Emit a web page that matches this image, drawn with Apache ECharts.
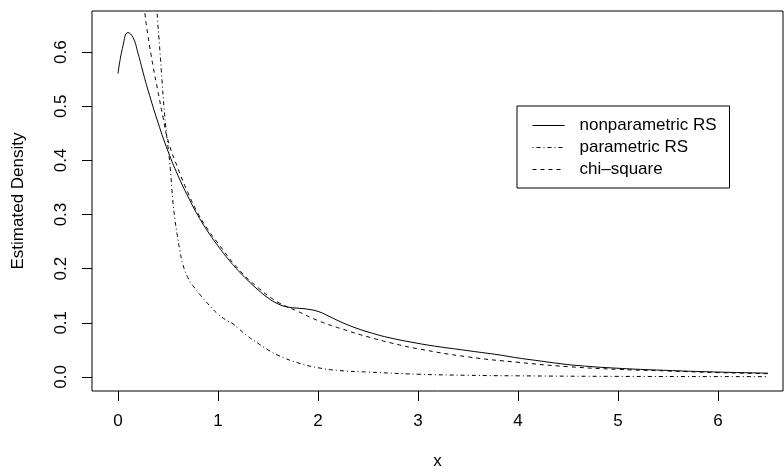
<!DOCTYPE html>
<html>
<head>
<meta charset="utf-8">
<script src="https://cdn.jsdelivr.net/npm/echarts@6/dist/echarts.min.js"></script>
<style>
  html, body { margin: 0; padding: 0; background: #fff; }
  #chart { width: 784px; height: 472px; }
</style>
</head>
<body>
<div id="chart"></div>
<script>
// --- DATEN ---
const seriesNames = ['nonparametric RS', 'parametric RS', 'chi\u2013square'];

const xNonpar = [0, 0.05, 0.1, 0.15, 0.2, 0.25, 0.3, 0.4, 0.5, 0.6, 0.7, 0.8, 0.9, 1.0, 1.1, 1.2, 1.3, 1.4, 1.5, 1.6, 1.7, 1.8, 1.9, 2.0, 2.1, 2.2, 2.3, 2.4, 2.5, 2.7, 3.0, 3.2, 3.4, 3.6, 3.8, 4.0, 4.2, 4.4, 4.6, 5.0, 5.5, 6.0, 6.5];
const yNonpar = [0.56, 0.612, 0.636, 0.627, 0.598, 0.563, 0.53, 0.47, 0.417, 0.372, 0.333, 0.298, 0.268, 0.242, 0.218, 0.197, 0.178, 0.161, 0.146, 0.135, 0.129, 0.127, 0.125, 0.121, 0.113, 0.104, 0.096, 0.089, 0.083, 0.073, 0.062, 0.056, 0.051, 0.046, 0.041, 0.035, 0.03, 0.025, 0.021, 0.016, 0.012, 0.009, 0.007];

const xPar = [0.36, 0.39, 0.42, 0.44, 0.46, 0.483, 0.5, 0.523, 0.546, 0.57, 0.59, 0.62, 0.65, 0.7, 0.76, 0.82, 0.9, 1.0, 1.1, 1.15, 1.2, 1.3, 1.4, 1.5, 1.6, 1.8, 2.0, 2.2, 2.5, 3.0, 3.5, 4.0, 5.0, 6.5];
const yPar = [0.78, 0.676, 0.6, 0.548, 0.498, 0.452, 0.425, 0.385, 0.33, 0.29, 0.265, 0.232, 0.207, 0.183, 0.166, 0.152, 0.135, 0.116, 0.103, 0.098, 0.09, 0.075, 0.062, 0.05, 0.04, 0.026, 0.017, 0.012, 0.009, 0.005, 0.003, 0.002, 0.001, 0.0005];

const xChi = [0.22, 0.27, 0.3, 0.35, 0.4, 0.45, 0.5, 0.6, 0.7, 0.8, 0.9, 1.0, 1.2, 1.4, 1.6, 1.8, 2.0, 2.25, 2.5, 2.75, 3.0, 3.5, 4.0, 4.5, 5.0, 5.5, 6.0, 6.5];
const yChi = [0.76, 0.67, 0.63, 0.575, 0.527, 0.48, 0.437, 0.385, 0.34, 0.302, 0.272, 0.247, 0.2, 0.165, 0.138, 0.121, 0.104, 0.088, 0.074, 0.062, 0.052, 0.037, 0.027, 0.019, 0.014, 0.011, 0.008, 0.006];

const xTicks = [0, 1, 2, 3, 4, 5, 6];
const yTicks = [0, 0.1, 0.2, 0.3, 0.4, 0.5, 0.6];

// --- HILFSFUNKTION ---
const pairs = (xs, ys) => xs.map((x, i) => [x, ys[i]]);

const FONT = '"Liberation Sans", Arial, sans-serif';

const chart = echarts.init(document.getElementById('chart'), null, { renderer: 'canvas' });

const lineSeries = (name, data, type) => ({
    name: name,
    type: 'line',
    data: data,
    symbol: 'none',
    smooth: 0.5,
    clip: true,
    color: '#000',
    lineStyle: { color: '#000', width: 1, type: type },
    emphasis: { disabled: true }
});

chart.setOption({
    animation: false,
    backgroundColor: '#fff',
    textStyle: { fontFamily: FONT, color: '#000' },
    grid: {
        left: 92, right: 1, top: 11, bottom: 81,
        outerBoundsMode: 'none',
        show: true, borderColor: '#000', borderWidth: 1, backgroundColor: 'transparent'
    },
    legend: {
        orient: 'vertical',
        left: 517, top: 106,
        padding: [11, 13, 10, 15],
        borderColor: '#000', borderWidth: 1,
        itemWidth: 32, itemHeight: 14, itemGap: 5,
        itemStyle: { opacity: 0 },
        lineStyle: { width: 1 },
        textStyle: { fontSize: 17, fontFamily: FONT, color: '#000', padding: [0, 0, 0, 10] },
        data: seriesNames,
        selectedMode: false
    },
    xAxis: {
        type: 'value',
        min: -0.26, max: 6.65,
        name: 'x',
        nameLocation: 'middle',
        nameGap: 62,
        nameTextStyle: { fontSize: 17, fontFamily: FONT, color: '#000' },
        axisLine: { show: false, onZero: false },
        splitLine: { show: false },
        axisTick: { show: true, length: 10, lineStyle: { color: '#000', width: 1 }, customValues: xTicks },
        axisLabel: { fontSize: 17, color: '#000', margin: 22, customValues: xTicks, formatter: v => String(v) }
    },
    yAxis: {
        type: 'value',
        min: -0.026, max: 0.676,
        name: 'Estimated Density',
        nameLocation: 'middle',
        nameRotate: 90,
        nameGap: 65,
        nameTextStyle: { fontSize: 17, fontFamily: FONT, color: '#000' },
        axisLine: { show: false, onZero: false },
        splitLine: { show: false },
        axisTick: { show: true, length: 10, lineStyle: { color: '#000', width: 1 }, customValues: yTicks },
        axisLabel: { fontSize: 17, color: '#000', margin: 22, rotate: 90, customValues: yTicks, formatter: v => v.toFixed(1) }
    },
    series: [
        lineSeries(seriesNames[0], pairs(xNonpar, yNonpar), 'solid'),
        lineSeries(seriesNames[1], pairs(xPar, yPar), [1, 3, 4, 3]),
        lineSeries(seriesNames[2], pairs(xChi, yChi), [4, 4])
    ]
});

window.addEventListener('resize', () => chart.resize());
</script>
</body>
</html>
